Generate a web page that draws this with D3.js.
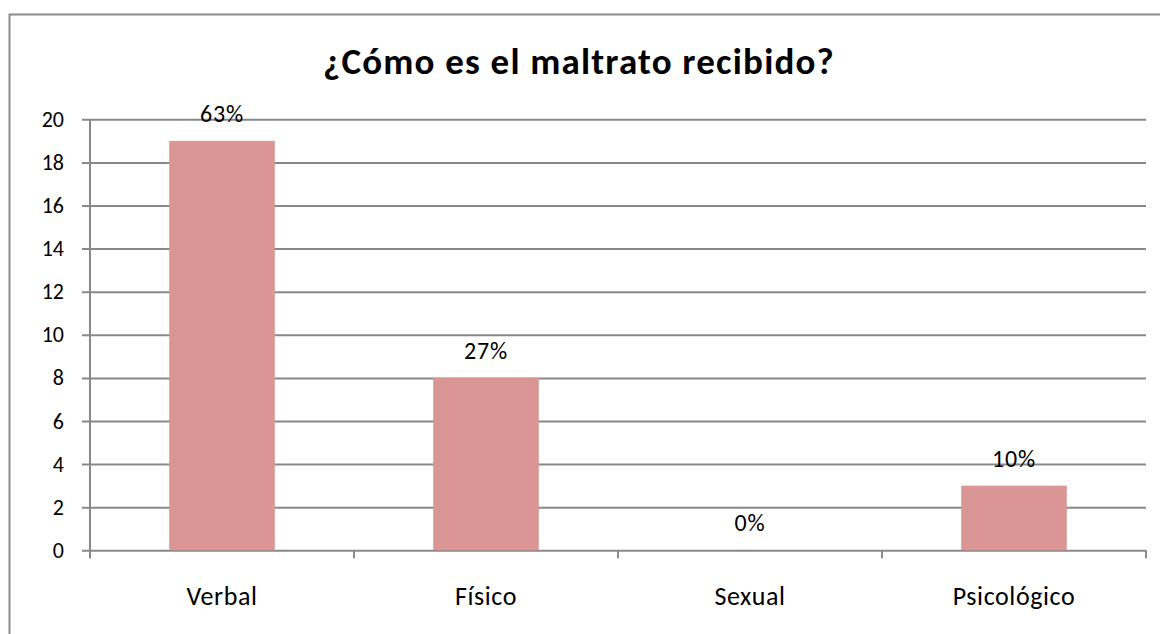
<!DOCTYPE html>
<html>
<head>
<meta charset="utf-8">
<script src="https://cdn.jsdelivr.net/npm/d3@7"></script>
<style>
  html, body { margin: 0; padding: 0; background: #fff; }
  svg { display: block; font-family: Carlito, Lato, "Open Sans", sans-serif; }
</style>
</head>
<body>
<svg id="chart" width="1160" height="634"></svg>
<script>
// Tipos de maltrato y número de respuestas
const categories = ["Verbal", "Físico", "Sexual", "Psicológico"];
const counts = [19, 8, 0, 3];
const percentLabels = ["63%", "27%", "0%", "10%"];
const yTicks = [0, 2, 4, 6, 8, 10, 12, 14, 16, 18, 20];
const title = "¿Cómo es el maltrato recibido?";

const svg = d3.select("#chart");
const W = 1160, H = 634;
const plot = { left: 90, right: 1146, top: 119.3, bottom: 550.3 };
const gridColor = "#888888";
const barColor = "#D99694";

// Marco exterior del gráfico
svg.append("rect")
  .attr("x", 9.5).attr("y", 14.5)
  .attr("width", W + 20).attr("height", H + 20)
  .attr("fill", "none")
  .attr("stroke", "#8a8a8a")
  .attr("stroke-width", 2);

// Título
svg.append("text")
  .attr("x", 579).attr("y", 74)
  .attr("text-anchor", "middle")
  .attr("font-size", 37)
  .attr("font-weight", "bold")
  .attr("letter-spacing", 1.2)
  .attr("fill", "#000")
  .text(title);

const x = d3.scaleBand()
  .domain(categories)
  .range([plot.left, plot.right])
  .paddingInner(0)
  .paddingOuter(0);

const y = d3.scaleLinear()
  .domain([0, 20])
  .range([plot.bottom, plot.top]);

// Líneas de cuadrícula horizontales y eje Y
const yAxis = d3.axisLeft(y)
  .tickValues(yTicks)
  .tickSize(-(plot.right - plot.left))
  .tickSizeOuter(0)
  .tickPadding(26)
  .tickFormat(d3.format("d"));

const gy = svg.append("g")
  .attr("transform", `translate(${plot.left},0)`)
  .call(yAxis);
gy.select(".domain").remove();
gy.selectAll(".tick line")
  .attr("x1", -8)
  .attr("stroke", gridColor)
  .attr("stroke-width", 2);
gy.selectAll(".tick text")
  .attr("font-size", 22)
  .attr("fill", "#000")
  .attr("font-family", "Carlito, Lato, 'Open Sans', sans-serif");

// Línea vertical del eje Y
svg.append("line")
  .attr("x1", plot.left).attr("x2", plot.left)
  .attr("y1", plot.top).attr("y2", plot.bottom + 8)
  .attr("stroke", gridColor)
  .attr("stroke-width", 2);

// Eje X con marcas en los límites de cada categoría
const boundaries = categories.map(c => x(c)).concat([x(categories[categories.length - 1]) + x.bandwidth()]);
svg.selectAll("line.xtick")
  .data(boundaries)
  .join("line")
  .attr("class", "xtick")
  .attr("x1", d => d).attr("x2", d => d)
  .attr("y1", plot.bottom).attr("y2", plot.bottom + 8)
  .attr("stroke", gridColor)
  .attr("stroke-width", 2);

svg.selectAll("text.xlabel")
  .data(categories)
  .join("text")
  .attr("class", "xlabel")
  .attr("x", d => x(d) + x.bandwidth() / 2)
  .attr("y", 605)
  .attr("text-anchor", "middle")
  .attr("font-size", 26)
  .attr("letter-spacing", 0.6)
  .attr("fill", "#000")
  .text(d => d);

// Barras
const barW = x.bandwidth() * 0.4;
svg.selectAll("rect.bar")
  .data(categories.map((c, i) => ({ c, v: counts[i] })))
  .join("rect")
  .attr("class", "bar")
  .attr("x", d => x(d.c) + (x.bandwidth() - barW) / 2)
  .attr("y", d => y(d.v))
  .attr("width", barW)
  .attr("height", d => y(0) - y(d.v))
  .attr("fill", barColor);

// Etiquetas de porcentaje
svg.selectAll("text.pct")
  .data(categories.map((c, i) => ({ c, v: counts[i], t: percentLabels[i] })))
  .join("text")
  .attr("class", "pct")
  .attr("x", d => x(d.c) + x.bandwidth() / 2)
  .attr("y", d => y(d.v) - 19)
  .attr("text-anchor", "middle")
  .attr("font-size", 24)
  .attr("letter-spacing", 0.8)
  .attr("fill", "#000")
  .text(d => d.t);
</script>
</body>
</html>
